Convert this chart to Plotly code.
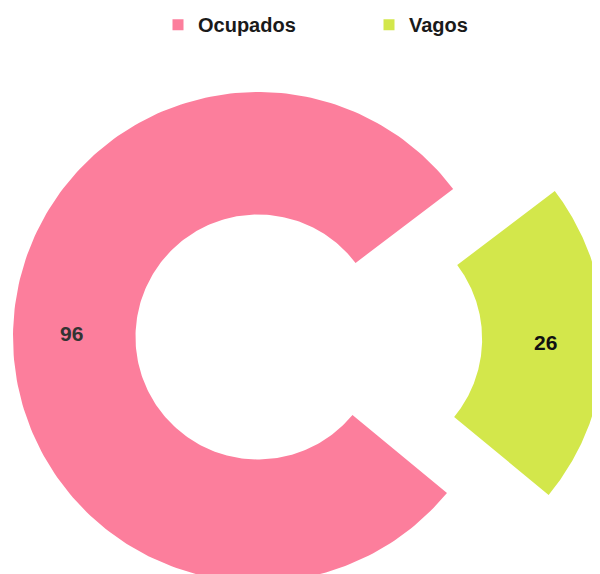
import numpy as np
import plotly.graph_objects as go

labels = ["Ocupados", "Vagos"]
values = [96, 26]
colors = ["#FC7E9C", "#D3E74B"]
label_colors = ["#333333", "#111111"]
pulls = [0.0, 0.415]

START_DEG = 37.2   # counter-clockwise from east, start of first slice
HOLE = 0.5
FONT = "Liberation Sans Narrow, Arial Narrow, Liberation Sans, Arial, sans-serif"

fig = go.Figure()
total = sum(values)
a0 = START_DEG
legend_ids = ["legend", "legend2"]
for lab, val, col, pull, lc, lg in zip(labels, values, colors, pulls, label_colors, legend_ids):
    span = 360.0 * val / total
    a1 = a0 + span
    mid = np.radians((a0 + a1) / 2)
    ox, oy = pull * np.cos(mid), pull * np.sin(mid)
    th = np.radians(np.linspace(a0, a1, 240))
    xs = np.concatenate([np.cos(th), HOLE * np.cos(th[::-1])]) + ox
    ys = np.concatenate([np.sin(th), HOLE * np.sin(th[::-1])]) + oy
    xs = np.append(xs, xs[0]); ys = np.append(ys, ys[0])
    fig.add_trace(go.Scatter(x=xs, y=ys, mode="lines", fill="toself",
                             fillcolor=col, line=dict(width=0, color=col),
                             hoverinfo="text", text=f"{lab}: {val}",
                             legendgroup=lab, showlegend=False))
    fig.add_trace(go.Scatter(x=[None], y=[None], mode="markers", name=lab,
                             marker=dict(symbol="square", size=11, color=col),
                             legendgroup=lab, showlegend=True, legend=lg))
    rl = (1 + HOLE) / 2 + 0.01
    fig.add_annotation(x=ox + rl * np.cos(mid), y=oy + rl * np.sin(mid),
                       text=str(val), showarrow=False,
                       font=dict(family=FONT, size=21, color=lc, weight="bold"))
    a0 = a1

leg_font = dict(family=FONT, size=20, color="#1a1a1a", weight="bold")
fig.update_layout(
    width=600, height=574,
    margin=dict(l=0, r=0, t=0, b=0, autoexpand=False),
    paper_bgcolor="white", plot_bgcolor="white",
    xaxis=dict(range=[-1.0204, 1.4286], visible=False, fixedrange=True),
    yaxis=dict(range=[-1.0, 1.3429], visible=False, fixedrange=True),
    showlegend=True,
    legend=dict(x=150/600, xanchor="left", y=0.971, yanchor="middle",
                bgcolor="rgba(0,0,0,0)", borderwidth=0, font=leg_font),
    legend2=dict(x=361/600, xanchor="left", y=0.971, yanchor="middle",
                 bgcolor="rgba(0,0,0,0)", borderwidth=0, font=leg_font),
)
fig.write_html("out.html")
